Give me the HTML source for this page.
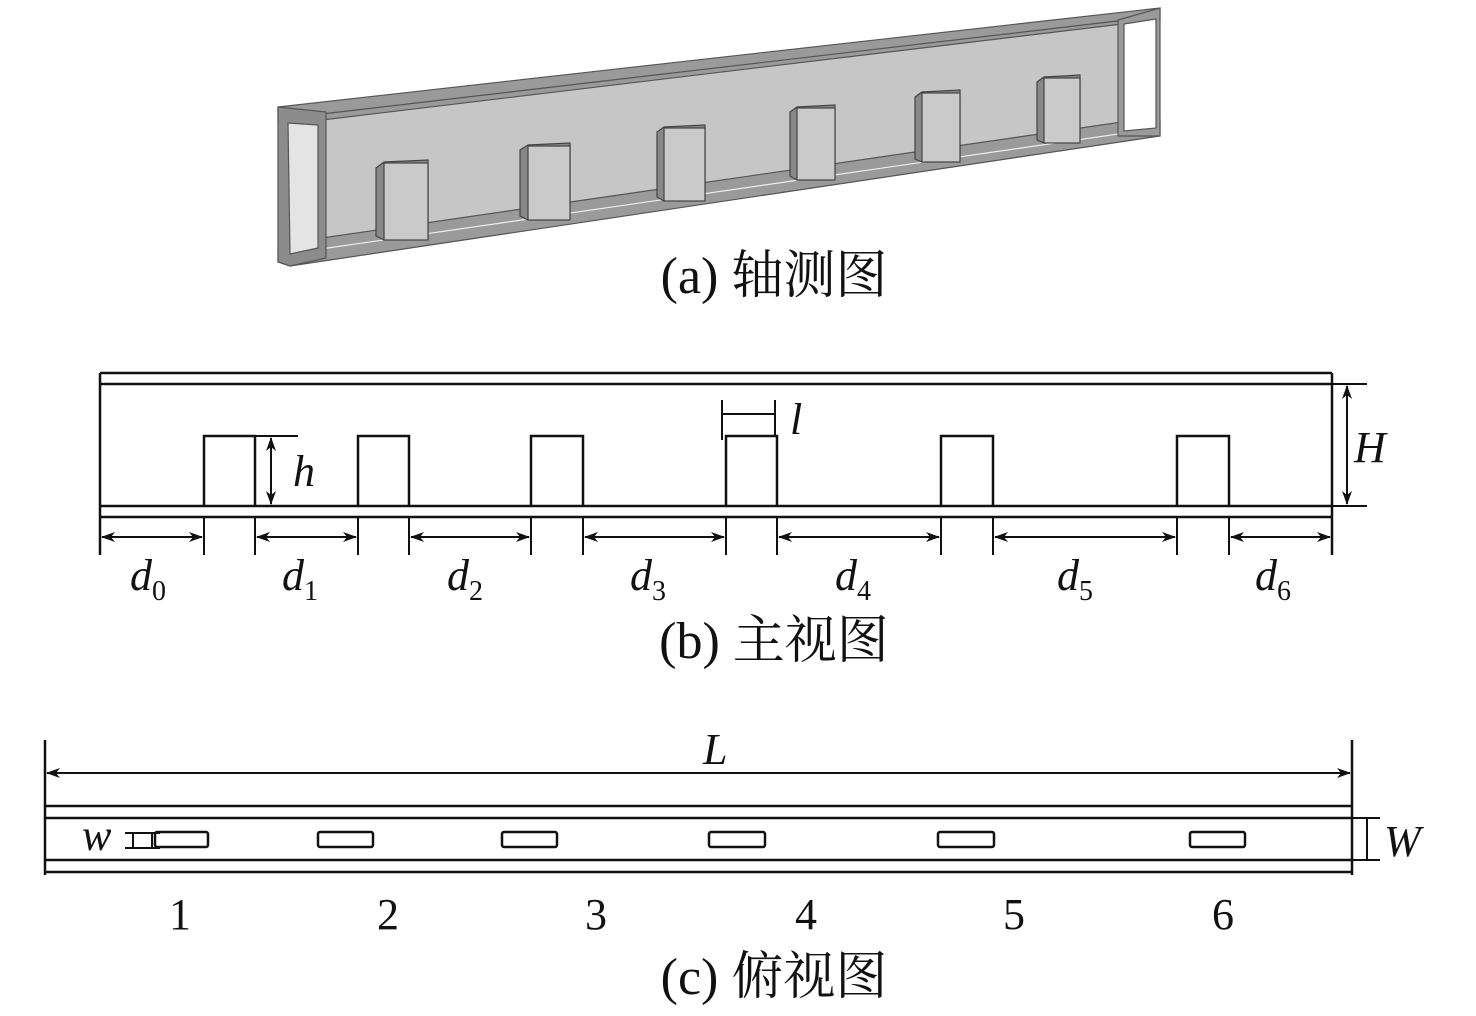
<!DOCTYPE html>
<html><head><meta charset="utf-8"><style>
html,body{margin:0;padding:0;background:#fff;}
svg{display:block}
text{font-family:"Liberation Serif","Noto Serif CJK SC",serif;fill:#111}
.cn{font-family:"Liberation Serif","Noto Serif CJK SC","Noto Sans CJK SC",serif}
</style></head><body>
<svg width="1476" height="1016" viewBox="0 0 1476 1016" xmlns="http://www.w3.org/2000/svg">
<defs>
<marker id="a" markerWidth="14" markerHeight="10" refX="13" refY="5" orient="auto-start-reverse" markerUnits="userSpaceOnUse">
<path d="M0,0 L14,5 L0,10 L4,5 Z" fill="#111"/></marker>
</defs>
<!-- (a) isometric -->
<g stroke="#555" stroke-width="1.2">
<polygon points="322,118 1122,22 1122,128 322,247" fill="#c6c6c6"/>
<polygon points="278,107 1160,8 1160,20 1122,24 322,120 278,122" fill="#9a9a9a"/>
<line x1="322" y1="114" x2="1160" y2="16"/>
<polygon points="322,238 1122,122 1160,120 1160,136 290,266 278,262 278,250" fill="#9a9a9a"/>
<line x1="300" y1="252" x2="1160" y2="128" stroke="#eee"/>
<polygon points="278,107 326,112 326,258 290,266 278,262" fill="#8c8c8c"/>
<polygon points="288,123 318,125 318,248 290,254" fill="#e4e4e4"/>
<polygon points="1118,20 1160,8 1160,136 1118,136" fill="#9a9a9a"/>
<polygon points="1124,24 1156,19 1156,128 1124,131" fill="#fff"/>
</g>
<g stroke="#444" stroke-width="1.2">
<g><polygon points="376,168 384,162 428,160 428,236 384,240 376,236" fill="#888"/><rect x="384" y="163" width="44" height="77" fill="#cacaca"/></g>
<g><polygon points="520,150 528,145 570,143 570,216 528,220 520,216" fill="#888"/><rect x="528" y="146" width="42" height="74" fill="#cacaca"/></g>
<g><polygon points="657,132 664,127 705,125 705,197 664,201 657,197" fill="#888"/><rect x="664" y="128" width="41" height="73" fill="#cacaca"/></g>
<g><polygon points="790,112 797,107 835,105 835,176 797,180 790,176" fill="#888"/><rect x="797" y="108" width="38" height="72" fill="#cacaca"/></g>
<g><polygon points="915,97 922,92 960,90 960,159 922,162 915,159" fill="#888"/><rect x="922" y="93" width="38" height="69" fill="#cacaca"/></g>
<g><polygon points="1037,82 1044,77 1080,75 1080,140 1044,143 1037,140" fill="#888"/><rect x="1044" y="78" width="36" height="65" fill="#cacaca"/></g>
</g>
<text x="774" y="293" font-size="52" text-anchor="middle" class="cn">(a) 轴测图</text>

<!-- (b) front view -->
<g stroke="#111" stroke-width="2.5" fill="none">
<line x1="100" y1="373" x2="1332" y2="373"/>
<line x1="100" y1="384" x2="1332" y2="384"/>
<line x1="100" y1="506" x2="1332" y2="506"/>
<line x1="100" y1="517" x2="1332" y2="517"/>
<line x1="100" y1="373" x2="100" y2="555"/>
<line x1="1332" y1="373" x2="1332" y2="555"/>
<path d="M204,506V436H255V506 M358,506V436H409V506 M531,506V436H583V506 M726,506V436H777V506 M941,506V436H993V506 M1177,506V436H1229V506"/>
<path d="M204,517V555 M255,517V555 M358,517V555 M409,517V555 M531,517V555 M583,517V555 M726,517V555 M777,517V555 M941,517V555 M993,517V555 M1177,517V555 M1229,517V555" stroke-width="2"/>
</g>
<g stroke="#111" stroke-width="2" marker-start="url(#a)" marker-end="url(#a)">
<line x1="102" y1="537" x2="202" y2="537"/>
<line x1="257" y1="537" x2="356" y2="537"/>
<line x1="411" y1="537" x2="529" y2="537"/>
<line x1="585" y1="537" x2="724" y2="537"/>
<line x1="779" y1="537" x2="939" y2="537"/>
<line x1="995" y1="537" x2="1175" y2="537"/>
<line x1="1231" y1="537" x2="1330" y2="537"/>
<line x1="271" y1="438" x2="271" y2="504"/>
<line x1="1347" y1="386" x2="1347" y2="504"/>
<line x1="47" y1="773" x2="1350" y2="773"/>
</g>
<g stroke="#111" stroke-width="2">
<line x1="255" y1="436" x2="298" y2="436"/>
<line x1="1332" y1="384" x2="1367" y2="384"/>
<line x1="1332" y1="506" x2="1367" y2="506"/>
<line x1="722" y1="400" x2="722" y2="440"/>
<line x1="775" y1="400" x2="775" y2="436"/>
<line x1="722" y1="414" x2="775" y2="414"/>
</g>
<g font-size="44" font-style="italic">
<text x="293" y="486">h</text>
<text x="790" y="434">l</text>
<text x="1354" y="462">H</text>
<text x="130" y="590">d<tspan font-size="28" font-style="normal" dy="10">0</tspan></text>
<text x="282" y="590">d<tspan font-size="28" font-style="normal" dy="10">1</tspan></text>
<text x="447" y="590">d<tspan font-size="28" font-style="normal" dy="10">2</tspan></text>
<text x="630" y="590">d<tspan font-size="28" font-style="normal" dy="10">3</tspan></text>
<text x="835" y="590">d<tspan font-size="28" font-style="normal" dy="10">4</tspan></text>
<text x="1057" y="590">d<tspan font-size="28" font-style="normal" dy="10">5</tspan></text>
<text x="1255" y="590">d<tspan font-size="28" font-style="normal" dy="10">6</tspan></text>
</g>
<text x="774" y="658" font-size="52" text-anchor="middle" class="cn">(b) 主视图</text>

<!-- (c) top view -->
<g stroke="#111" stroke-width="2.5" fill="none">
<line x1="45" y1="740" x2="45" y2="875"/>
<line x1="1352" y1="740" x2="1352" y2="875"/>
<line x1="45" y1="806" x2="1352" y2="806"/>
<line x1="45" y1="818" x2="1352" y2="818"/>
<line x1="45" y1="860" x2="1352" y2="860"/>
<line x1="45" y1="872" x2="1352" y2="872"/>
<rect x="155" y="832" width="53" height="15" rx="2"/>
<rect x="318" y="832" width="55" height="15" rx="2"/>
<rect x="502" y="832" width="55" height="15" rx="2"/>
<rect x="709" y="832" width="56" height="15" rx="2"/>
<rect x="938" y="832" width="56" height="15" rx="2"/>
<rect x="1190" y="832" width="55" height="15" rx="2"/>
</g>
<g stroke="#111" stroke-width="2">
<line x1="125" y1="833" x2="160" y2="833"/>
<line x1="125" y1="848" x2="160" y2="848"/>
<line x1="133" y1="833" x2="133" y2="848"/>
<line x1="152" y1="833" x2="152" y2="848"/>
<line x1="1367" y1="818" x2="1367" y2="860"/>
<line x1="1352" y1="818" x2="1380" y2="818"/>
<line x1="1352" y1="860" x2="1380" y2="860"/>
</g>
<g font-size="44" font-style="italic">
<text x="703" y="764">L</text>
<text x="82" y="850">w</text>
<text x="1384" y="856">W</text>
</g>
<g font-size="44" text-anchor="middle">
<text x="180" y="929">1</text>
<text x="388" y="929">2</text>
<text x="596" y="929">3</text>
<text x="806" y="929">4</text>
<text x="1014" y="929">5</text>
<text x="1223" y="929">6</text>
</g>
<text x="774" y="994" font-size="52" text-anchor="middle" class="cn">(c) 俯视图</text>
</svg>
</body></html>
